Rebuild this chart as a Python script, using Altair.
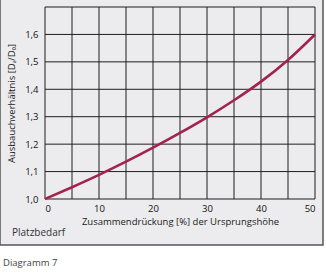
import altair as alt
import pandas as pd

# Data
compression = [0, 5, 10, 15, 20, 25, 30, 35, 40, 45, 50]
ratio = [1.0, 1.043, 1.088, 1.136, 1.187, 1.241, 1.298, 1.36, 1.428, 1.507, 1.6]
x_grid = [0, 5, 10, 15, 20, 25, 30, 35, 40, 45, 50]
y_grid = [1.0, 1.1, 1.2, 1.3, 1.4, 1.5, 1.6, 1.7]
x_ticks = [0, 10, 20, 30, 40, 50]
y_ticks = [1.0, 1.1, 1.2, 1.3, 1.4, 1.5, 1.6]

W, H = 270, 192
FONT = "Open Sans"

curve = pd.DataFrame({"x": compression, "y": ratio})
xg = pd.DataFrame({"x": x_grid})
yg = pd.DataFrame({"y": y_grid})

xs = alt.Scale(domain=[0, 50], nice=False, zero=False)
ys = alt.Scale(domain=[1.0, 1.7], nice=False, zero=False)

x_axis = alt.Axis(
    values=x_ticks, ticks=False, domain=False, grid=False,
    title="Zusammendrückung [%] der Ursprungshöhe",
    labelFontSize=9.5, labelPadding=4, labelFont=FONT, labelColor="#111111",
    titleFont=FONT, titleFontSize=9.5, titleFontWeight="normal",
    titleColor="#1a1a1a", titlePadding=4, zindex=1,
)
y_axis = alt.Axis(
    values=y_ticks, ticks=False, domain=False, grid=False,
    labelExpr="replace(format(datum.value, '.1f'), '.', ',')",
    title="Ausbauchverhältnis [Dₐ/D₀]",
    labelFontSize=9.5, labelPadding=7, labelFont=FONT, labelColor="#111111",
    titleFont=FONT, titleFontSize=9.5, titleFontWeight="normal",
    titleColor="#1a1a1a", titlePadding=8, zindex=1,
)

panel = alt.Chart(pd.DataFrame({"a": [0]})).mark_rect(
    fill="#ececee", stroke="#555555", strokeWidth=1.5
).encode(x=alt.value(-45), x2=alt.value(278), y=alt.value(-12), y2=alt.value(238))

vgrid = alt.Chart(xg).mark_rule(color="#1e1e1e", strokeWidth=1).encode(
    x=alt.X("x:Q", scale=xs, axis=x_axis)
)
hgrid = alt.Chart(yg).mark_rule(color="#1e1e1e", strokeWidth=1).encode(
    y=alt.Y("y:Q", scale=ys, axis=y_axis)
)

line = alt.Chart(curve).mark_line(
    color="#a3234d", strokeWidth=2.6, interpolate="monotone"
).encode(
    x=alt.X("x:Q", scale=xs, axis=x_axis),
    y=alt.Y("y:Q", scale=ys, axis=y_axis),
)

lbl1 = alt.Chart(pd.DataFrame({"t": ["Platzbedarf"]})).mark_text(
    align="left", baseline="middle", font=FONT, fontSize=10, color="#333333"
).encode(text="t:N", x=alt.value(-33), y=alt.value(226))

lbl2 = alt.Chart(pd.DataFrame({"t": ["Diagramm 7"]})).mark_text(
    align="left", baseline="middle", font=FONT, fontSize=9.5, color="#444444"
).encode(text="t:N", x=alt.value(-42), y=alt.value(256))

chart = alt.layer(panel, vgrid, hgrid, line, lbl1, lbl2).properties(
    width=W, height=H,
    autosize=alt.AutoSizeParams(type="none"),
    padding={"left": 45, "top": 7, "right": 11, "bottom": 76},
    background="white",
).configure_view(stroke=None)

chart.save("out.html", embed_options={"renderer": "svg", "actions": False})
